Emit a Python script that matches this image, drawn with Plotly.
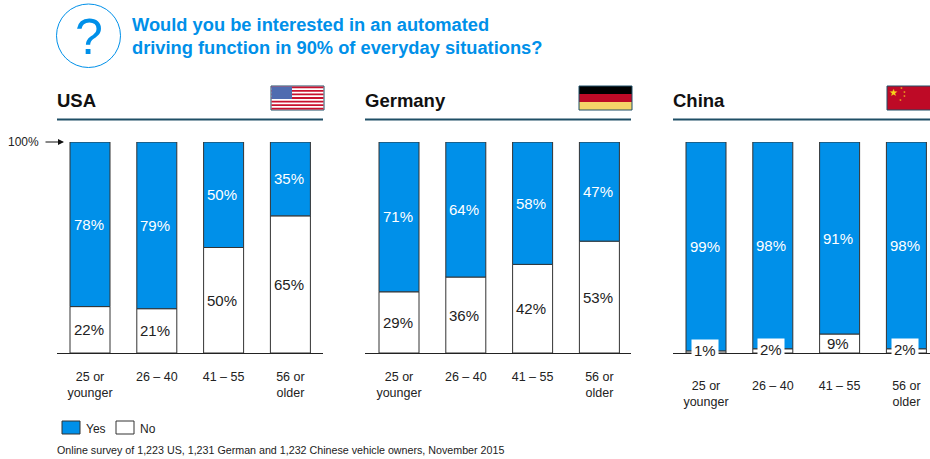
import plotly.graph_objects as go

W, H = 930, 459
AGE_GROUPS = ["25 or<br>younger", "26 – 40", "41 – 55", "56 or<br>older"]
COUNTRIES = ["USA", "Germany", "China"]
YES_USA = [78, 79, 50, 35]
NO_USA = [22, 21, 50, 65]
YES_GERMANY = [71, 64, 58, 47]
NO_GERMANY = [29, 36, 42, 53]
YES_CHINA = [99, 98, 91, 98]
NO_CHINA = [1, 2, 9, 2]

BLUE = "#0090E9"
TEAL = "#1F4F66"
INK = "#222222"
SANS = "Liberation Sans, Arial, sans-serif"


def px(x):
    return x / W


def py(y):
    return 1 - y / H


# Each panel: left edge, right edge, centre of first bar, tick label standoff, values
PANELS = [
    (57, 323, 90, 12, YES_USA, NO_USA),
    (365, 631, 399, 12, YES_GERMANY, NO_GERMANY),
    (673, 930, 706, 21, YES_CHINA, NO_CHINA),
]
STEP = 66.8
BAR_WIDTH = 40 / STEP

fig = go.Figure()
shapes, annotations = [], []


def text(x, y, s, size, color=INK, family=SANS, bold=False, anchor="left", **kw):
    annotations.append(dict(
        x=px(x), y=py(y), xref="paper", yref="paper", text=f"<b>{s}</b>" if bold else s,
        showarrow=False, xanchor=anchor, yanchor="middle", align=anchor, borderpad=0, borderwidth=0,
        font=dict(size=size, color=color, family=family), **kw))


def rect(x0, y0, x1, y1, fill, line=None, width=0, layer="above"):
    shapes.append(dict(
        type="rect", xref="paper", yref="paper", layer=layer,
        x0=px(x0), x1=px(x1), y0=py(y0), y1=py(y1), fillcolor=fill,
        line=dict(color=line or fill, width=width)))


for i, (left, right, first, standoff, yes, no) in enumerate(PANELS):
    suffix = "" if i == 0 else str(i + 1)
    xref, yref = f"x{suffix}", f"y{suffix}"
    fig.add_bar(x=AGE_GROUPS, y=no, name="No", xaxis=xref, yaxis=yref, width=BAR_WIDTH,
                marker=dict(color="white", line=dict(color="#333333", width=1)))
    fig.add_bar(x=AGE_GROUPS, y=yes, base=no, name="Yes", xaxis=xref, yaxis=yref, width=BAR_WIDTH,
                marker=dict(color=BLUE, line=dict(color="#333333", width=1)))
    start = -(first - left) / STEP
    fig.update_layout({
        f"xaxis{suffix}": dict(
            domain=[px(left), px(right)], range=[start, start + (right - left) / STEP],
            type="category", categoryorder="array", categoryarray=AGE_GROUPS, anchor=yref,
            showline=True, linecolor=INK, linewidth=1, ticks="", showgrid=False, zeroline=False,
            tickfont=dict(family=SANS, size=12.5, color=INK), ticklabelstandoff=standoff,
            tickangle=0, fixedrange=True),
        f"yaxis{suffix}": dict(
            domain=[py(353), py(142)], range=[0, 100], anchor=xref, visible=False, fixedrange=True),
    })
    # Value labels sit on the centre of each segment
    for cat, y_val, n_val in zip(AGE_GROUPS, yes, no):
        annotations.append(dict(
            x=cat, y=n_val + y_val / 2, xref=xref, yref=yref, text=f"{y_val}%", showarrow=False,
            xshift=-1.5, font=dict(family=SANS, size=15, color="white")))
        small = n_val < 3
        annotations.append(dict(
            x=cat, y=n_val / 2, xref=xref, yref=yref, text=f"{n_val}%", showarrow=False,
            xshift=-1.5, yshift=1 if small else 0, bgcolor="white" if small else None, borderpad=2,
            font=dict(family=SANS, size=15, color=INK)))
    # Country heading and rule
    text(left, 100, COUNTRIES[i], 18.5, "#111111", SANS, bold=True)
    shapes.append(dict(type="line", xref="paper", yref="paper", x0=px(left), x1=px(right),
                       y0=py(119.5), y1=py(119.5), line=dict(color=TEAL, width=2)))

# Question heading
shapes.append(dict(type="circle", xref="paper", yref="paper", x0=px(56.5), x1=px(120.5),
                   y0=py(67.5), y1=py(4), line=dict(color=BLUE, width=1)))
text(88.5, 37, "?", 50, BLUE, SANS, anchor="center")
text(132, 24, "Would you be interested in an automated", 18.3, BLUE, SANS, bold=True)
text(132, 48, "driving function in 90% of everyday situations?", 18.3, BLUE, SANS, bold=True)

# US flag
rect(271, 86, 324, 110, "white", TEAL, 1)
for s in range(7):
    rect(271.5, 86.5 + s * 23 / 6.5, 323.5, 86.5 + (s + 0.5) * 23 / 6.5, "#C8102E")
rect(271.5, 86.5, 292, 99, "#4F6CB0")

# German flag
rect(579, 86, 632, 94, "#000000")
rect(579, 94, 632, 102, "#BE0A26")
rect(579, 102, 632, 110, "#F5D469")
shapes.append(dict(type="rect", xref="paper", yref="paper", x0=px(579), x1=px(632), y0=py(110), y1=py(86),
                   line=dict(color=TEAL, width=1)))

# Chinese flag
rect(887, 86, 940, 110, "#BE0A26", TEAL, 1)
annotations.append(dict(x=px(893), y=py(92), xref="paper", yref="paper", text="★", showarrow=False,
                        xanchor="center", yanchor="middle",
                        font=dict(size=10, color="#F7D618", family="DejaVu Sans")))
for sx, sy in [(901, 88), (904, 92), (904, 96), (900, 100)]:
    annotations.append(dict(x=px(sx), y=py(sy), xref="paper", yref="paper", text="★", showarrow=False,
                            xanchor="center", yanchor="middle",
                            font=dict(size=3, color="#F7D618", family="DejaVu Sans")))

# 100% marker
text(8, 142, "100%", 12, INK)
annotations.append(dict(x=px(64), y=py(142), xref="paper", yref="paper", ax=-20, ay=0,
                        showarrow=True, arrowhead=2, arrowsize=1.2,
                        arrowwidth=1, arrowcolor="#111111", text=""))

# Legend key
rect(62, 421, 80, 434, BLUE, "#333333", 1)
text(86, 429, "Yes", 12, INK)
rect(116, 421, 134, 434, "white", "#333333", 1)
text(140, 429, "No", 12, INK)

# Sample note
text(57, 450, "Online survey of 1,223 US, 1,231 German and 1,232 Chinese vehicle owners, November 2015",
     10.7, INK)

fig.update_layout(
    width=W, height=H, margin=dict(l=0, r=0, t=0, b=0), barmode="overlay",
    paper_bgcolor="white", plot_bgcolor="white", showlegend=False,
    shapes=shapes, annotations=annotations,
)
fig.write_html("out.html", config={"displayModeBar": False})
